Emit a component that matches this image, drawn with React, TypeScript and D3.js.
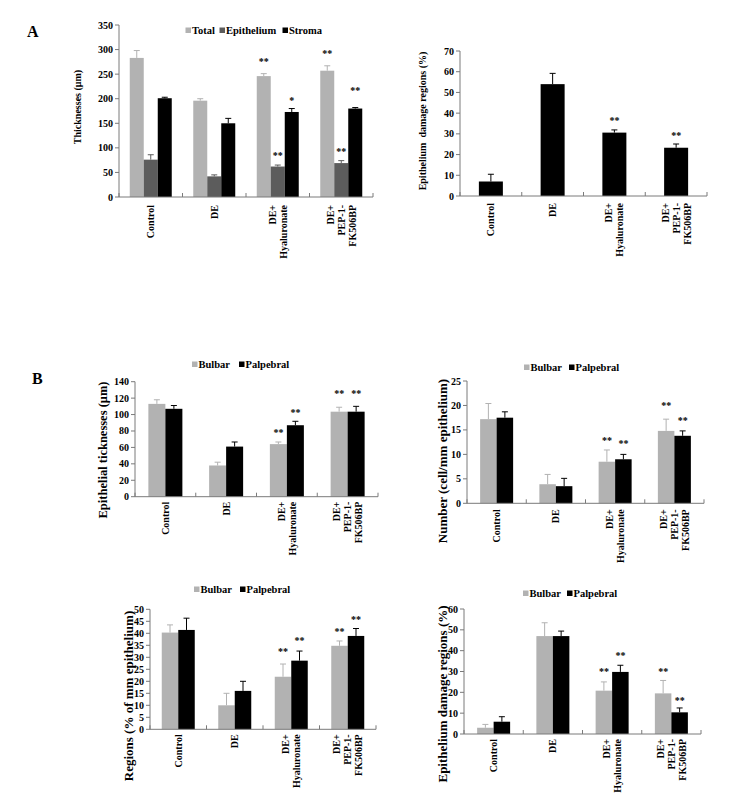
import React from 'react';
import * as d3 from 'd3';

// categories shared by every panel
const categories = ['Control', 'DE', 'DE+ Hyaluronate', 'DE+ PEP-1-FK506BP'];
const categoryLines = [['Control'], ['DE'], ['DE+', 'Hyaluronate'], ['DE+', 'PEP-1-', 'FK506BP']];

// A, left: thicknesses (um)
const totalThick = [283, 196, 246, 257];
const totalThickSd = [15, 4, 5, 10];
const totalThickStars = ['', '', '**', '**'];
const totalThickStarAt = [0, 0, 277, 295];
const epiThick = [76, 42, 62, 69];
const epiThickSd = [10, 3, 3, 5];
const epiThickStars = ['', '', '**', '**'];
const epiThickStarAt = [0, 0, 85.5, 93.7];
const stromaThick = [201, 150, 173, 180];
const stromaThickSd = [2, 10, 7, 2];
const stromaThickStars = ['', '', '*', '**'];
const stromaThickStarAt = [0, 0, 197.5, 218];

// A, right: epithelium damage regions (%)
const damageA = [7, 54, 30.6, 23.3];
const damageASd = [3.5, 5.2, 1.3, 1.8];
const damageAStars = ['', '', '**', '**'];
const damageAStarAt = [0, 0, 36.7, 29.9];

// B, top left: epithelial thicknesses (um)
const bulbarThick = [113, 38, 64, 103.5];
const bulbarThickSd = [5, 4, 2.6, 5.4];
const bulbarThickStarAt = [0, 0, 79, 126.7];
const palpThick = [107, 61, 87, 103.5];
const palpThickSd = [4, 5.6, 4.8, 6.5];
const palpThickStarAt = [0, 0, 103.5, 126.7];

// B, top right: number (cell/mm epithelium)
const bulbarNum = [17.2, 3.9, 8.5, 14.8];
const bulbarNumSd = [3.2, 2.0, 2.4, 2.4];
const bulbarNumStarAt = [0, 0, 13.1, 20.1];
const palpNum = [17.5, 3.5, 9.0, 13.8];
const palpNumSd = [1.2, 1.6, 1.0, 1.0];
const palpNumStarAt = [0, 0, 12.4, 17.2];

// B, bottom left: regions (% of mm epithelium)
const bulbarReg = [40.3, 10, 21.9, 34.8];
const bulbarRegSd = [3.2, 5, 5.3, 2];
const bulbarRegStarAt = [0, 0, 32.8, 41.1];
const palpReg = [41.4, 16, 28.6, 38.9];
const palpRegSd = [4.9, 4, 4, 3.1];
const palpRegStarAt = [0, 0, 37.5, 46.2];

// B, bottom right: epithelium damage regions (%)
const bulbarDmg = [3.0, 47, 20.8, 19.5];
const bulbarDmgSd = [1.6, 6.4, 4.2, 6.2];
const bulbarDmgStarAt = [0, 0, 30.4, 30.7];
const palpDmg = [5.9, 47, 29.8, 10.4];
const palpDmgSd = [2.4, 2.4, 3.2, 2.1];
const palpDmgStarAt = [0, 0, 38.1, 16.8];

const sigStars = ['', '', '**', '**'];

const LIGHT = '#b2b2b2';
const DARK = '#5c5c5c';
const BLACK = '#000000';
const FONT = "'Liberation Serif', 'Times New Roman', serif";

interface Series {
  name: string;
  color: string;
  values: number[];
  sd: number[];
  stars: string[];
  starAt: number[];
}

interface PanelCfg {
  frame: { x0: number; x1: number; yTop: number; yBot: number };
  yMax: number;
  yStep: number;
  barW: number;
  series: Series[];
  yLabel: string;
  yLabelPos: [number, number];
  yLabelSize: number;
  legend?: { y: number; xs: number[] };
  labelGap: number;
}

const BarPanel: React.FC<{ cfg: PanelCfg }> = ({ cfg }) => {
  const { x0, x1, yTop, yBot } = cfg.frame;
  const x = d3.scaleBand<string>().domain(categories).range([x0, x1]);
  const y = d3.scaleLinear().domain([0, cfg.yMax]).range([yBot, yTop]);
  const n = cfg.series.length;
  const inner = d3
    .scaleBand<number>()
    .domain(d3.range(n))
    .range([-(cfg.barW * n) / 2, (cfg.barW * n) / 2]);
  const ticks = d3.range(0, cfg.yMax + cfg.yStep / 2, cfg.yStep);
  const bounds = [...categories.map(c => x(c) as number), x1];
  const axisColor = '#7a7a7a';

  return (
    <g fontFamily={FONT} fontWeight="bold">
      {/* bars, error bars, stars */}
      {cfg.series.map((s, si) =>
        categories.map((c, ci) => {
          const bx = (x(c) as number) + x.bandwidth() / 2 + (inner(si) as number);
          const cx = bx + inner.bandwidth() / 2;
          const top = y(s.values[ci]);
          const errTop = y(s.values[ci] + s.sd[ci]);
          return (
            <g key={`${si}-${ci}`}>
              <rect x={bx} y={top} width={inner.bandwidth()} height={yBot - top} fill={s.color} />
              <line x1={cx} x2={cx} y1={top} y2={errTop} stroke={s.color} strokeWidth={1} />
              <line x1={cx - 3} x2={cx + 3} y1={errTop} y2={errTop} stroke={s.color} strokeWidth={1} />
              {s.stars[ci] && (
                <text x={cx} y={y(s.starAt[ci]) + 4.5} textAnchor="middle" fontSize={10} fill="#000">
                  {s.stars[ci]}
                </text>
              )}
            </g>
          );
        })
      )}

      {/* y axis */}
      <line x1={x0} x2={x0} y1={yTop} y2={yBot} stroke={axisColor} />
      {ticks.map(t => (
        <g key={t}>
          <line x1={x0 - 4} x2={x0} y1={y(t)} y2={y(t)} stroke={axisColor} />
          <text x={x0 - 6} y={y(t) + 3.5} textAnchor="end" fontSize={10} fill="#000">
            {t}
          </text>
        </g>
      ))}

      {/* x axis */}
      <line x1={x0} x2={x1} y1={yBot} y2={yBot} stroke={axisColor} />
      {bounds.map((b, i) => (
        <line key={i} x1={b} x2={b} y1={yBot} y2={yBot - 4} stroke={axisColor} />
      ))}
      {categories.map((c, ci) => {
        const lines = categoryLines[ci];
        const cx = (x(c) as number) + x.bandwidth() / 2;
        return (
          <text
            key={c}
            transform={`translate(${cx},${yBot + cfg.labelGap}) rotate(-90)`}
            textAnchor="end"
            fontSize={10}
            fill="#000"
          >
            {lines.map((l, li) => (
              <tspan key={li} x={0} y={(li - (lines.length - 1) / 2) * 11 + 3.5}>
                {l}
              </tspan>
            ))}
          </text>
        );
      })}

      {/* y axis title */}
      <text
        transform={`translate(${cfg.yLabelPos[0]},${cfg.yLabelPos[1]}) rotate(-90)`}
        textAnchor="middle"
        fontSize={cfg.yLabelSize}
        fill="#000"
        dy="0.35em"
      >
        {cfg.yLabel}
      </text>

      {/* legend */}
      {cfg.legend &&
        cfg.series.map((s, si) => (
          <g key={s.name}>
            <rect x={cfg.legend!.xs[si]} y={cfg.legend!.y - 2.5} width={5.5} height={5.5} fill={s.color} />
            <text x={cfg.legend!.xs[si] + 6.5} y={cfg.legend!.y + 3.8} fontSize={10.5} fill="#000">
              {s.name}
            </text>
          </g>
        ))}
    </g>
  );
};

const bulbarPalp = (
  bv: number[], bsd: number[], bAt: number[],
  pv: number[], psd: number[], pAt: number[]
): Series[] => [
  { name: 'Bulbar', color: LIGHT, values: bv, sd: bsd, stars: sigStars, starAt: bAt },
  { name: 'Palpebral', color: BLACK, values: pv, sd: psd, stars: sigStars, starAt: pAt },
];

const panels: PanelCfg[] = [
  {
    frame: { x0: 119, x1: 373, yTop: 25, yBot: 197 },
    yMax: 350, yStep: 50, barW: 14,
    series: [
      { name: 'Total', color: LIGHT, values: totalThick, sd: totalThickSd, stars: totalThickStars, starAt: totalThickStarAt },
      { name: 'Epithelium', color: DARK, values: epiThick, sd: epiThickSd, stars: epiThickStars, starAt: epiThickStarAt },
      { name: 'Stroma', color: BLACK, values: stromaThick, sd: stromaThickSd, stars: stromaThickStars, starAt: stromaThickStarAt },
    ],
    yLabel: 'Thicknesses (\u03bcm)', yLabelPos: [77, 107], yLabelSize: 10,
    legend: { y: 30, xs: [185.5, 219.5, 282.5] },
    labelGap: 8,
  },
  {
    frame: { x0: 460, x1: 707, yTop: 51, yBot: 196 },
    yMax: 70, yStep: 10, barW: 24,
    series: [
      { name: 'Damage', color: BLACK, values: damageA, sd: damageASd, stars: damageAStars, starAt: damageAStarAt },
    ],
    yLabel: 'Epithelium\u00a0 damage regions (%)', yLabelPos: [422, 121], yLabelSize: 10,
    labelGap: 7,
  },
  {
    frame: { x0: 135, x1: 378, yTop: 381.7, yBot: 496.7 },
    yMax: 140, yStep: 20, barW: 17,
    series: bulbarPalp(bulbarThick, bulbarThickSd, bulbarThickStarAt, palpThick, palpThickSd, palpThickStarAt),
    yLabel: 'Epithelial ticknesses (\u03bcm)', yLabelPos: [103, 450], yLabelSize: 12.5,
    legend: { y: 364, xs: [192, 239] },
    labelGap: 5,
  },
  {
    frame: { x0: 467, x1: 704, yTop: 381, yBot: 503.3 },
    yMax: 25, yStep: 5, barW: 16.5,
    series: bulbarPalp(bulbarNum, bulbarNumSd, bulbarNumStarAt, palpNum, palpNumSd, palpNumStarAt),
    yLabel: 'Number (cell/mm epithelium)', yLabelPos: [442, 461], yLabelSize: 13,
    legend: { y: 367, xs: [524, 569] },
    labelGap: 6,
  },
  {
    frame: { x0: 150, x1: 376, yTop: 609.3, yBot: 729.3 },
    yMax: 50, yStep: 5, barW: 16.5,
    series: bulbarPalp(bulbarReg, bulbarRegSd, bulbarRegStarAt, palpReg, palpRegSd, palpRegStarAt),
    yLabel: 'Regions (% of mm epithelium)', yLabelPos: [128, 696], yLabelSize: 13,
    legend: { y: 589, xs: [194, 240] },
    labelGap: 5,
  },
  {
    frame: { x0: 464, x1: 701, yTop: 609, yBot: 734 },
    yMax: 60, yStep: 10, barW: 16.5,
    series: bulbarPalp(bulbarDmg, bulbarDmgSd, bulbarDmgStarAt, palpDmg, palpDmgSd, palpDmgStarAt),
    yLabel: 'Epithelium damage regions (%)', yLabelPos: [442, 694], yLabelSize: 13,
    legend: { y: 593, xs: [523, 567] },
    labelGap: 5,
  },
];

export default function App() {
  return (
    <svg
      width={735}
      height={806}
      viewBox="0 0 735 806"
      style={{ position: 'absolute', left: 0, top: 0, background: '#fff' }}
    >
      <rect width={735} height={806} fill="#fff" />
      <text x={27} y={37} fontFamily={FONT} fontWeight="bold" fontSize={16}>A</text>
      <text x={32} y={384} fontFamily={FONT} fontWeight="bold" fontSize={16}>B</text>
      {panels.map((p, i) => (
        <BarPanel key={i} cfg={p} />
      ))}
    </svg>
  );
}
